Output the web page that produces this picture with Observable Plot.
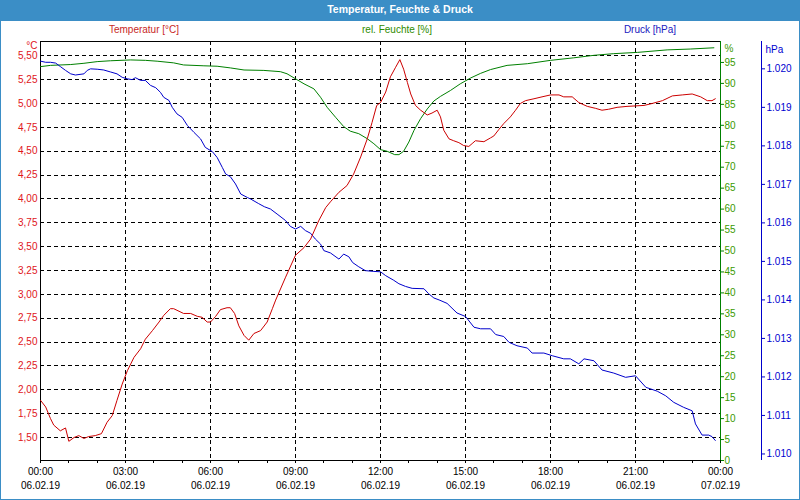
<!DOCTYPE html>
<html><head><meta charset="utf-8">
<script src="https://cdn.jsdelivr.net/npm/d3@7"></script>
<script src="https://cdn.jsdelivr.net/npm/@observablehq/plot@0.6"></script>
<style>
html,body{margin:0;padding:0;background:#fff;}
#wrap{position:relative;width:800px;height:500px;overflow:hidden;font-family:"Liberation Sans",Arial,sans-serif;background:#fff;}
#title{position:absolute;left:0;top:0;width:800px;height:21px;background:#3b8ec6;color:#fff;font-weight:bold;font-size:10.5px;text-align:center;line-height:19px;}
.lg{position:absolute;top:24px;font-size:10px;line-height:12px;transform:translateX(-50%);white-space:nowrap;}
#chart{position:absolute;left:0;top:21px;}
#border{position:absolute;left:0;top:0;width:800px;height:500px;border:1px solid #3b8ec6;border-top:none;box-sizing:border-box;pointer-events:none;}
</style></head>
<body>
<div id="wrap">
  <div id="title">Temperatur, Feuchte &amp; Druck</div>
  <div class="lg" style="left:144px;color:#c8281e">Temperatur [°C]</div>
  <div class="lg" style="left:397px;color:#2e8b00">rel. Feuchte [%]</div>
  <div class="lg" style="left:650px;color:#2020c0">Druck [hPa]</div>
  <div id="chart"></div>
  <div id="border"></div>
</div>
<script>
// ---- data: [minutes since 06.02.19 00:00, value] ----
const temperature = [[0,1.89],[11,1.82],[21,1.70],[28,1.63],[42,1.57],[53,1.60],[60,1.46],[71,1.50],[81,1.52],[92,1.49],[102,1.51],[116,1.52],[129,1.54],[141,1.66],[152,1.73],[162,1.89],[173,2.06],[184,2.20],[198,2.34],[212,2.43],[222,2.53],[237,2.62],[251,2.71],[261,2.78],[275,2.85],[282,2.85],[303,2.80],[318,2.80],[332,2.77],[342,2.76],[353,2.71],[360,2.71],[371,2.77],[381,2.84],[395,2.86],[402,2.86],[411,2.80],[420,2.67],[431,2.57],[441,2.52],[452,2.59],[466,2.62],[480,2.71],[491,2.85],[498,2.94],[519,3.18],[540,3.41],[558,3.49],[572,3.58],[589,3.77],[604,3.91],[614,3.97],[632,4.07],[649,4.14],[663,4.26],[678,4.44],[692,4.63],[702,4.80],[712,4.98],[720,5.01],[731,5.12],[741,5.28],[752,5.38],[761,5.46],[769,5.36],[777,5.22],[784,5.10],[794,4.98],[805,4.93],[819,4.88],[829,4.90],[840,4.93],[847,4.86],[854,4.72],[865,4.63],[875,4.61],[886,4.59],[896,4.56],[907,4.55],[914,4.58],[921,4.61],[939,4.60],[953,4.64],[960,4.66],[971,4.73],[981,4.79],[995,4.86],[1006,4.93],[1016,5.00],[1027,5.03],[1045,5.05],[1062,5.07],[1080,5.09],[1098,5.09],[1108,5.07],[1126,5.07],[1140,5.01],[1158,4.97],[1175,4.95],[1189,4.93],[1203,4.94],[1221,4.96],[1242,4.97],[1278,4.98],[1295,5.00],[1317,5.03],[1338,5.08],[1359,5.09],[1380,5.10],[1398,5.07],[1412,5.03],[1422,5.03],[1429,5.05]];

const humidity = [[0,94.0],[21,94.3],[64,94.5],[92,94.8],[120,95.2],[148,95.4],[191,95.6],[222,95.5],[247,95.3],[282,94.9],[303,94.4],[346,94.2],[374,94.1],[402,93.7],[431,93.2],[473,93.1],[508,92.8],[522,92.3],[540,91.1],[558,89.9],[579,88.7],[593,86.7],[607,84.3],[625,81.9],[642,79.7],[656,78.6],[674,78.0],[692,76.8],[706,75.6],[720,74.2],[734,73.8],[750,73.0],[759,73.0],[769,73.8],[780,76.0],[791,78.8],[805,81.6],[819,83.9],[833,85.8],[847,86.9],[868,88.3],[889,89.9],[911,91.3],[932,92.4],[953,93.3],[988,94.3],[1031,94.7],[1080,95.5],[1129,96.1],[1172,96.7],[1214,97.1],[1264,97.4],[1327,98.0],[1376,98.2],[1426,98.5]];

const pressure = [[0,1020.20],[11,1020.17],[21,1020.17],[32,1020.15],[42,1020.06],[53,1019.96],[64,1019.87],[74,1019.84],[92,1019.87],[99,1019.96],[106,1020.00],[120,1019.99],[134,1019.97],[148,1019.92],[162,1019.87],[173,1019.78],[184,1019.74],[194,1019.72],[201,1019.77],[212,1019.70],[222,1019.70],[233,1019.57],[244,1019.51],[254,1019.39],[261,1019.26],[272,1019.18],[279,1019.00],[289,1018.83],[300,1018.74],[311,1018.53],[325,1018.35],[339,1018.18],[349,1017.96],[364,1017.85],[374,1017.70],[385,1017.44],[392,1017.27],[402,1017.20],[413,1017.01],[424,1016.75],[438,1016.66],[445,1016.62],[462,1016.50],[474,1016.42],[487,1016.36],[501,1016.23],[519,1016.06],[529,1015.91],[540,1015.84],[551,1015.91],[561,1015.80],[572,1015.73],[582,1015.58],[593,1015.45],[600,1015.28],[614,1015.22],[632,1015.06],[642,1015.19],[653,1015.12],[661,1014.97],[674,1014.86],[688,1014.76],[706,1014.74],[720,1014.73],[731,1014.63],[748,1014.51],[759,1014.42],[773,1014.35],[787,1014.30],[812,1014.29],[822,1014.16],[833,1014.05],[844,1014.00],[861,1013.91],[882,1013.66],[900,1013.57],[918,1013.29],[932,1013.25],[953,1013.25],[964,1013.10],[981,1013.05],[992,1012.90],[1009,1012.81],[1031,1012.75],[1041,1012.62],[1066,1012.62],[1084,1012.55],[1108,1012.47],[1122,1012.47],[1140,1012.34],[1151,1012.47],[1172,1012.42],[1189,1012.18],[1214,1012.10],[1239,1011.99],[1260,1012.03],[1282,1011.73],[1306,1011.63],[1324,1011.51],[1341,1011.34],[1362,1011.21],[1380,1011.12],[1387,1010.78],[1401,1010.49],[1415,1010.49],[1422,1010.45],[1429,1010.35]];

const tempTicks = [1.50,1.75,2.00,2.25,2.50,2.75,3.00,3.25,3.50,3.75,4.00,4.25,4.50,4.75,5.00,5.25,5.50];
const humTicks = [0,5,10,15,20,25,30,35,40,45,50,55,60,65,70,75,80,85,90,95];
const presTicks = [1010,1011,1012,1013,1014,1015,1016,1017,1018,1019,1020];
const hourTicks = d3.range(0, 25);
const labelHours = [0,3,6,9,12,15,18,21,24];

// ---- scales ----
const tDom = [1.259, 5.65];
const hDom = [0, 100];
const pDom = [1009.83, 1020.71];
const hToT = h => tDom[0] + (h - hDom[0]) / (hDom[1] - hDom[0]) * (tDom[1] - tDom[0]);
const tToH = t => hDom[0] + (t - tDom[0]) / (tDom[1] - tDom[0]) * (hDom[1] - hDom[0]);
const pToT = p => tDom[0] + (p - pDom[0]) / (pDom[1] - pDom[0]) * (tDom[1] - tDom[0]);
const tToP = t => pDom[0] + (t - tDom[0]) / (tDom[1] - tDom[0]) * (pDom[1] - pDom[0]);

const t0 = new Date(2019, 1, 6, 0, 0);
const t1 = new Date(2019, 1, 7, 0, 0);
const atMin = m => new Date(2019, 1, 6, 0, m);
const atHour = h => new Date(2019, 1, 6, h, 0);

const de = d3.formatLocale({decimal: ",", thousands: ".", grouping: [3], currency: ["", " €"]});
const fT = de.format(".2f");
const fP = de.format(",d");
const fTime = d3.timeFormat("%H:%M");
const fDate = d3.timeFormat("%d.%m.%y");

const RED = "#cc0000", GREEN = "#008000", BLUE = "#0000cc";
const RED_T = "#e0141a", GREEN_T = "#3a9a00", BLUE_T = "#0000d0";
const dash = "4,3";

const chart = Plot.plot({
  width: 800, height: 479,
  marginLeft: 40, marginRight: 80, marginTop: 20, marginBottom: 40,
  style: {fontFamily: "'Liberation Sans', Arial, sans-serif", fontSize: "10px", background: "transparent", overflow: "visible"},
  x: {type: "time", domain: [t0, t1]},
  y: {domain: tDom},
  marks: [
    // grid
    Plot.ruleY(tempTicks, {stroke: "#000", strokeDasharray: dash, shapeRendering: "crispEdges"}),
    Plot.ruleX([3,6,9,12,15,18,21].map(atHour), {stroke: "#000", strokeDasharray: dash, shapeRendering: "crispEdges"}),
    // frame lines
    Plot.ruleY([tDom[0], tDom[1]], {stroke: "#000", shapeRendering: "crispEdges"}),
    Plot.ruleX([t0], {stroke: "#000", shapeRendering: "crispEdges"}),
    Plot.ruleX([t1], {stroke: GREEN, shapeRendering: "crispEdges"}),
    Plot.ruleX([t1], {stroke: BLUE, dx: 41, shapeRendering: "crispEdges"}),
    // x axis
    Plot.axisX(hourTicks.map(atHour), {anchor: "bottom", tickSize: 3, tickFormat: () => "", label: null, stroke: "#000", shapeRendering: "crispEdges"}),
    Plot.text(labelHours.map(atHour), {x: d => d, frameAnchor: "bottom", dy: 14, text: d => fTime(d), fill: "#000"}),
    Plot.text(labelHours.map(atHour), {x: d => d, frameAnchor: "bottom", dy: 28, text: d => fDate(d), fill: "#000"}),
    // temperature axis labels
    Plot.text(tempTicks, {y: d => d, frameAnchor: "left", dx: -3, textAnchor: "end", text: d => fT(d), fill: RED_T}),
    Plot.text(["°C"], {frameAnchor: "top-left", dx: -3, dy: 0, textAnchor: "end", text: d => d, fill: RED_T}),
    // humidity axis
    Plot.axisY(humTicks.map(hToT), {anchor: "right", tickSize: 3, tickPadding: 1, label: null, stroke: GREEN, fill: GREEN_T, tickFormat: d => String(Math.round(tToH(d)))}),
    Plot.text(["%"], {frameAnchor: "top-right", dx: 4, dy: 3, textAnchor: "start", text: d => d, fill: GREEN_T}),
    // pressure axis
    Plot.axisY(presTicks.map(pToT), {anchor: "right", dx: 41, tickSize: 3, tickPadding: 2, label: null, stroke: BLUE, fill: BLUE_T, tickFormat: d => fP(Math.round(tToP(d)))}),
    Plot.text(["hPa"], {frameAnchor: "top-right", dx: 45, dy: 4, textAnchor: "start", text: d => d, fill: BLUE_T}),
    // series
    Plot.line(humidity, {x: d => atMin(d[0]), y: d => hToT(d[1]), stroke: GREEN, strokeWidth: 1}),
    Plot.line(pressure, {x: d => atMin(d[0]), y: d => pToT(d[1]), stroke: BLUE, strokeWidth: 1}),
    Plot.line(temperature, {x: d => atMin(d[0]), y: d => d[1], stroke: RED, strokeWidth: 1})
  ]
});
document.getElementById("chart").appendChild(chart);
</script>
</body></html>
